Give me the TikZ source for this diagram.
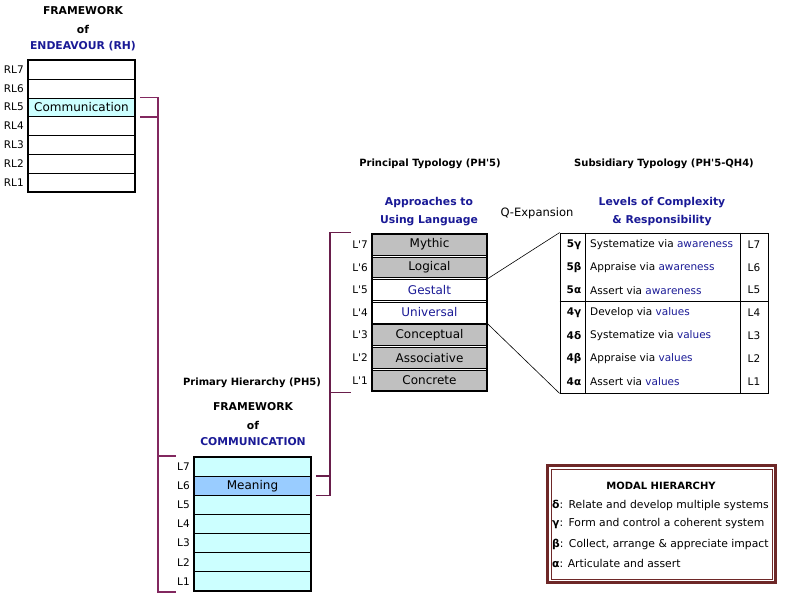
\documentclass[tikz,border=0pt]{standalone}
\usepackage{fontspec}
\setmainfont{DejaVu Sans}
\usetikzlibrary{positioning,fit,calc}

\definecolor{navytext}{RGB}{26,26,150}
\definecolor{rhlinkcol}{RGB}{130,40,95}
\definecolor{phlinkcol}{RGB}{105,30,75}
\definecolor{palecyan}{RGB}{204,255,255}
\definecolor{meaningblue}{RGB}{153,204,255}
\definecolor{cellgray}{RGB}{192,192,192}
\definecolor{modalred}{RGB}{110,40,40}

\begin{document}
\begin{tikzpicture}[x=1pt,y=-1pt,
    title/.style={font=\fontsize{10}{12}\selectfont\bfseries,inner sep=0pt},
    bigtitle/.style={font=\fontsize{10.8}{12}\selectfont\bfseries,inner sep=0pt},
    bluetitle/.style={bigtitle,text=navytext},
    lvl/.style={font=\fontsize{10.5}{12}\selectfont,inner sep=0pt},
    cell/.style={draw,line width=.6pt,inner sep=0pt,font=\fontsize{12}{13}\selectfont},
    rhrow/.style={cell,minimum width=106.5pt,minimum height=18.79pt},
    phrow/.style={cell,fill=palecyan,minimum width=116.5pt,minimum height=19.07pt},
    ptrow/.style={cell,fill=cellgray,line width=.5pt,minimum width=114.5pt,minimum height=20.9pt},
    frame/.style={draw,line width=2.5pt,inner sep=0pt},
    subtext/.style={font=\fontsize{10.5}{12}\selectfont,inner sep=0pt},
    rhlink/.style={draw=rhlinkcol,line width=1.6pt},
    phlink/.style={draw=phlinkcol,line width=1.6pt},
    expand/.style={draw,line width=.6pt},
    modaltext/.style={font=\fontsize{10.8}{12}\selectfont,inner sep=0pt,anchor=west}]
  \useasboundingbox (0,0) rectangle (788,601);

  % framework of endeavour
  \node[bigtitle] (rhhead1) at (83,11) {FRAMEWORK};
  \node[bigtitle] (rhhead2) at (83,29) {of};
  \node[bluetitle] (rhhead3) at (83,46) {ENDEAVOUR (RH)};
  \foreach \i [count=\k from 0] in {7,...,1}{
    \node[rhrow] (rl\i) at (81.5,{69.64+18.79*\k}) {};
    \node[lvl,left=4pt of rl\i] {RL\i};
  }
  \node[rhrow,fill=palecyan] (rhcomm) at (rl5) {Communication};
  \node[frame,fit=(rl7)(rl1)] (rh) {};

  % framework of communication
  \node[title] (phcap) at (252,383) {Primary Hierarchy (PH5)};
  \node[bigtitle] (phhead1) at (253,407) {FRAMEWORK};
  \node[bigtitle] (phhead2) at (253,425) {of};
  \node[bluetitle] (phhead3) at (253,442) {COMMUNICATION};
  \foreach \i [count=\k from 0] in {7,...,1}{
    \node[phrow] (l\i) at (252.5,{466.79+19.07*\k}) {};
    \node[lvl,left=4pt of l\i] {L\i};
  }
  \node[phrow,fill=meaningblue] (meaning) at (l6) {Meaning};
  \node[frame,fit=(l7)(l1)] (ph) {};

  % principal typology
  \node[title] (ptcap) at (430,164) {Principal Typology (PH\textquotesingle5)};
  \node[bluetitle] (pthead1) at (429,203) {Approaches to};
  \node[bluetitle] (pthead2) at (429,221) {Using Language};
  \foreach \i/\name [count=\k from 0] in {7/Mythic,6/Logical,5/Gestalt,4/Universal,3/Conceptual,2/Associative,1/Concrete}{
    \node[ptrow] (lp\i) at (429.5,{244.57+22.64*\k}) {\name};
    \node[lvl,left=4pt of lp\i] {L\textquotesingle\i};
  }
  \node[ptrow,fill=white,text=navytext] at (lp5) {Gestalt};
  \node[ptrow,fill=white,text=navytext] at (lp4) {Universal};
  \node[frame,fit=(lp7)(lp1)] (pt) {};

  % subsidiary typology
  \node[title] (stcap) at (664,164) {Subsidiary Typology (PH\textquotesingle5-QH4)};
  \node[bluetitle] (sthead1) at (662,203) {Levels of Complexity};
  \node[bluetitle] (sthead2) at (662,221) {\& Responsibility};
  \node[lvl,font=\fontsize{11.5}{13}\selectfont] (qexp) at (537,213) {Q-Expansion};
  \node[draw,line width=.8pt,minimum width=208pt,minimum height=160pt,inner sep=0pt] (sub) at (664,313) {};
  \foreach \i/\code/\verb/\via [count=\k from 0] in {
      7/5γ/Systematize/awareness,6/5β/Appraise/awareness,5/5α/Assert/awareness,
      4/4γ/Develop/values,3/4δ/Systematize/values,2/4β/Appraise/values,1/4α/Assert/values}{
    \node[subtext,font=\fontsize{10.5}{12}\selectfont\bfseries] (c\i) at (574,{244.43+22.857*\k}) {\code};
    \node[subtext,anchor=west] (s\i) at (590,{244.43+22.857*\k}) {\verb{} via \textcolor{navytext}{\via}};
    \node[subtext] (sl\i) at (754,{244.43+22.857*\k}) {L\i};
  }
  \draw[line width=.8pt] ($(sub.north west)+(26,0)$) -- ($(sub.south west)+(26,0)$);
  \draw[line width=.8pt] ($(sub.north east)+(-28,0)$) -- ($(sub.south east)+(-28,0)$);
  \draw[line width=.8pt] ($(sub.north west)+(0,68.57)$) -- ($(sub.north east)+(0,68.57)$);

  % connectors
  \draw[rhlink] ([xshift=5pt]rhcomm.north east) -- ++(18,0) coordinate (rhjoin)
    -- (rhjoin |- ph.south) -- ++(18,0);
  \draw[rhlink] ([xshift=5pt]rhcomm.south east) -- ++(18,0);
  \draw[rhlink] (rhjoin |- ph.north) -- ++(18,0);
  \draw[phlink] ([xshift=5pt]meaning.south east) -- ++(14,0) coordinate (phjoin)
    -- (phjoin |- pt.north) -- ++(21,0);
  \draw[phlink] ([xshift=5pt]meaning.north east) -- (phjoin |- meaning.north);
  \draw[phlink] (phjoin |- pt.south) -- ++(21,0);
  \draw[expand] (lp5.north east) -- (sub.north west);
  \draw[expand] (lp4.south east) -- (sub.south west);

  % modal hierarchy
  \node[draw=modalred,line width=3pt,minimum width=228pt,minimum height=117pt,inner sep=0pt] (modal) at (661.5,524) {};
  \draw[modalred,line width=.8pt] ($(modal.north west)+(5,5)$) rectangle ($(modal.south east)+(-5,-5)$);
  \node[title] (mhead) at (661,486) {MODAL HIERARCHY};
  \node[modaltext] (m4) at (552,505) {\textbf{δ}:\enspace Relate and develop multiple systems};
  \node[modaltext] (m3) at (552,524) {\textbf{γ}:\enspace Form and control a coherent system};
  \node[modaltext] (m2) at (552,544) {\textbf{β}:\enspace Collect, arrange \& appreciate impact};
  \node[modaltext] (m1) at (552,563) {\textbf{α}: Articulate and assert};
\end{tikzpicture}
\end{document}
